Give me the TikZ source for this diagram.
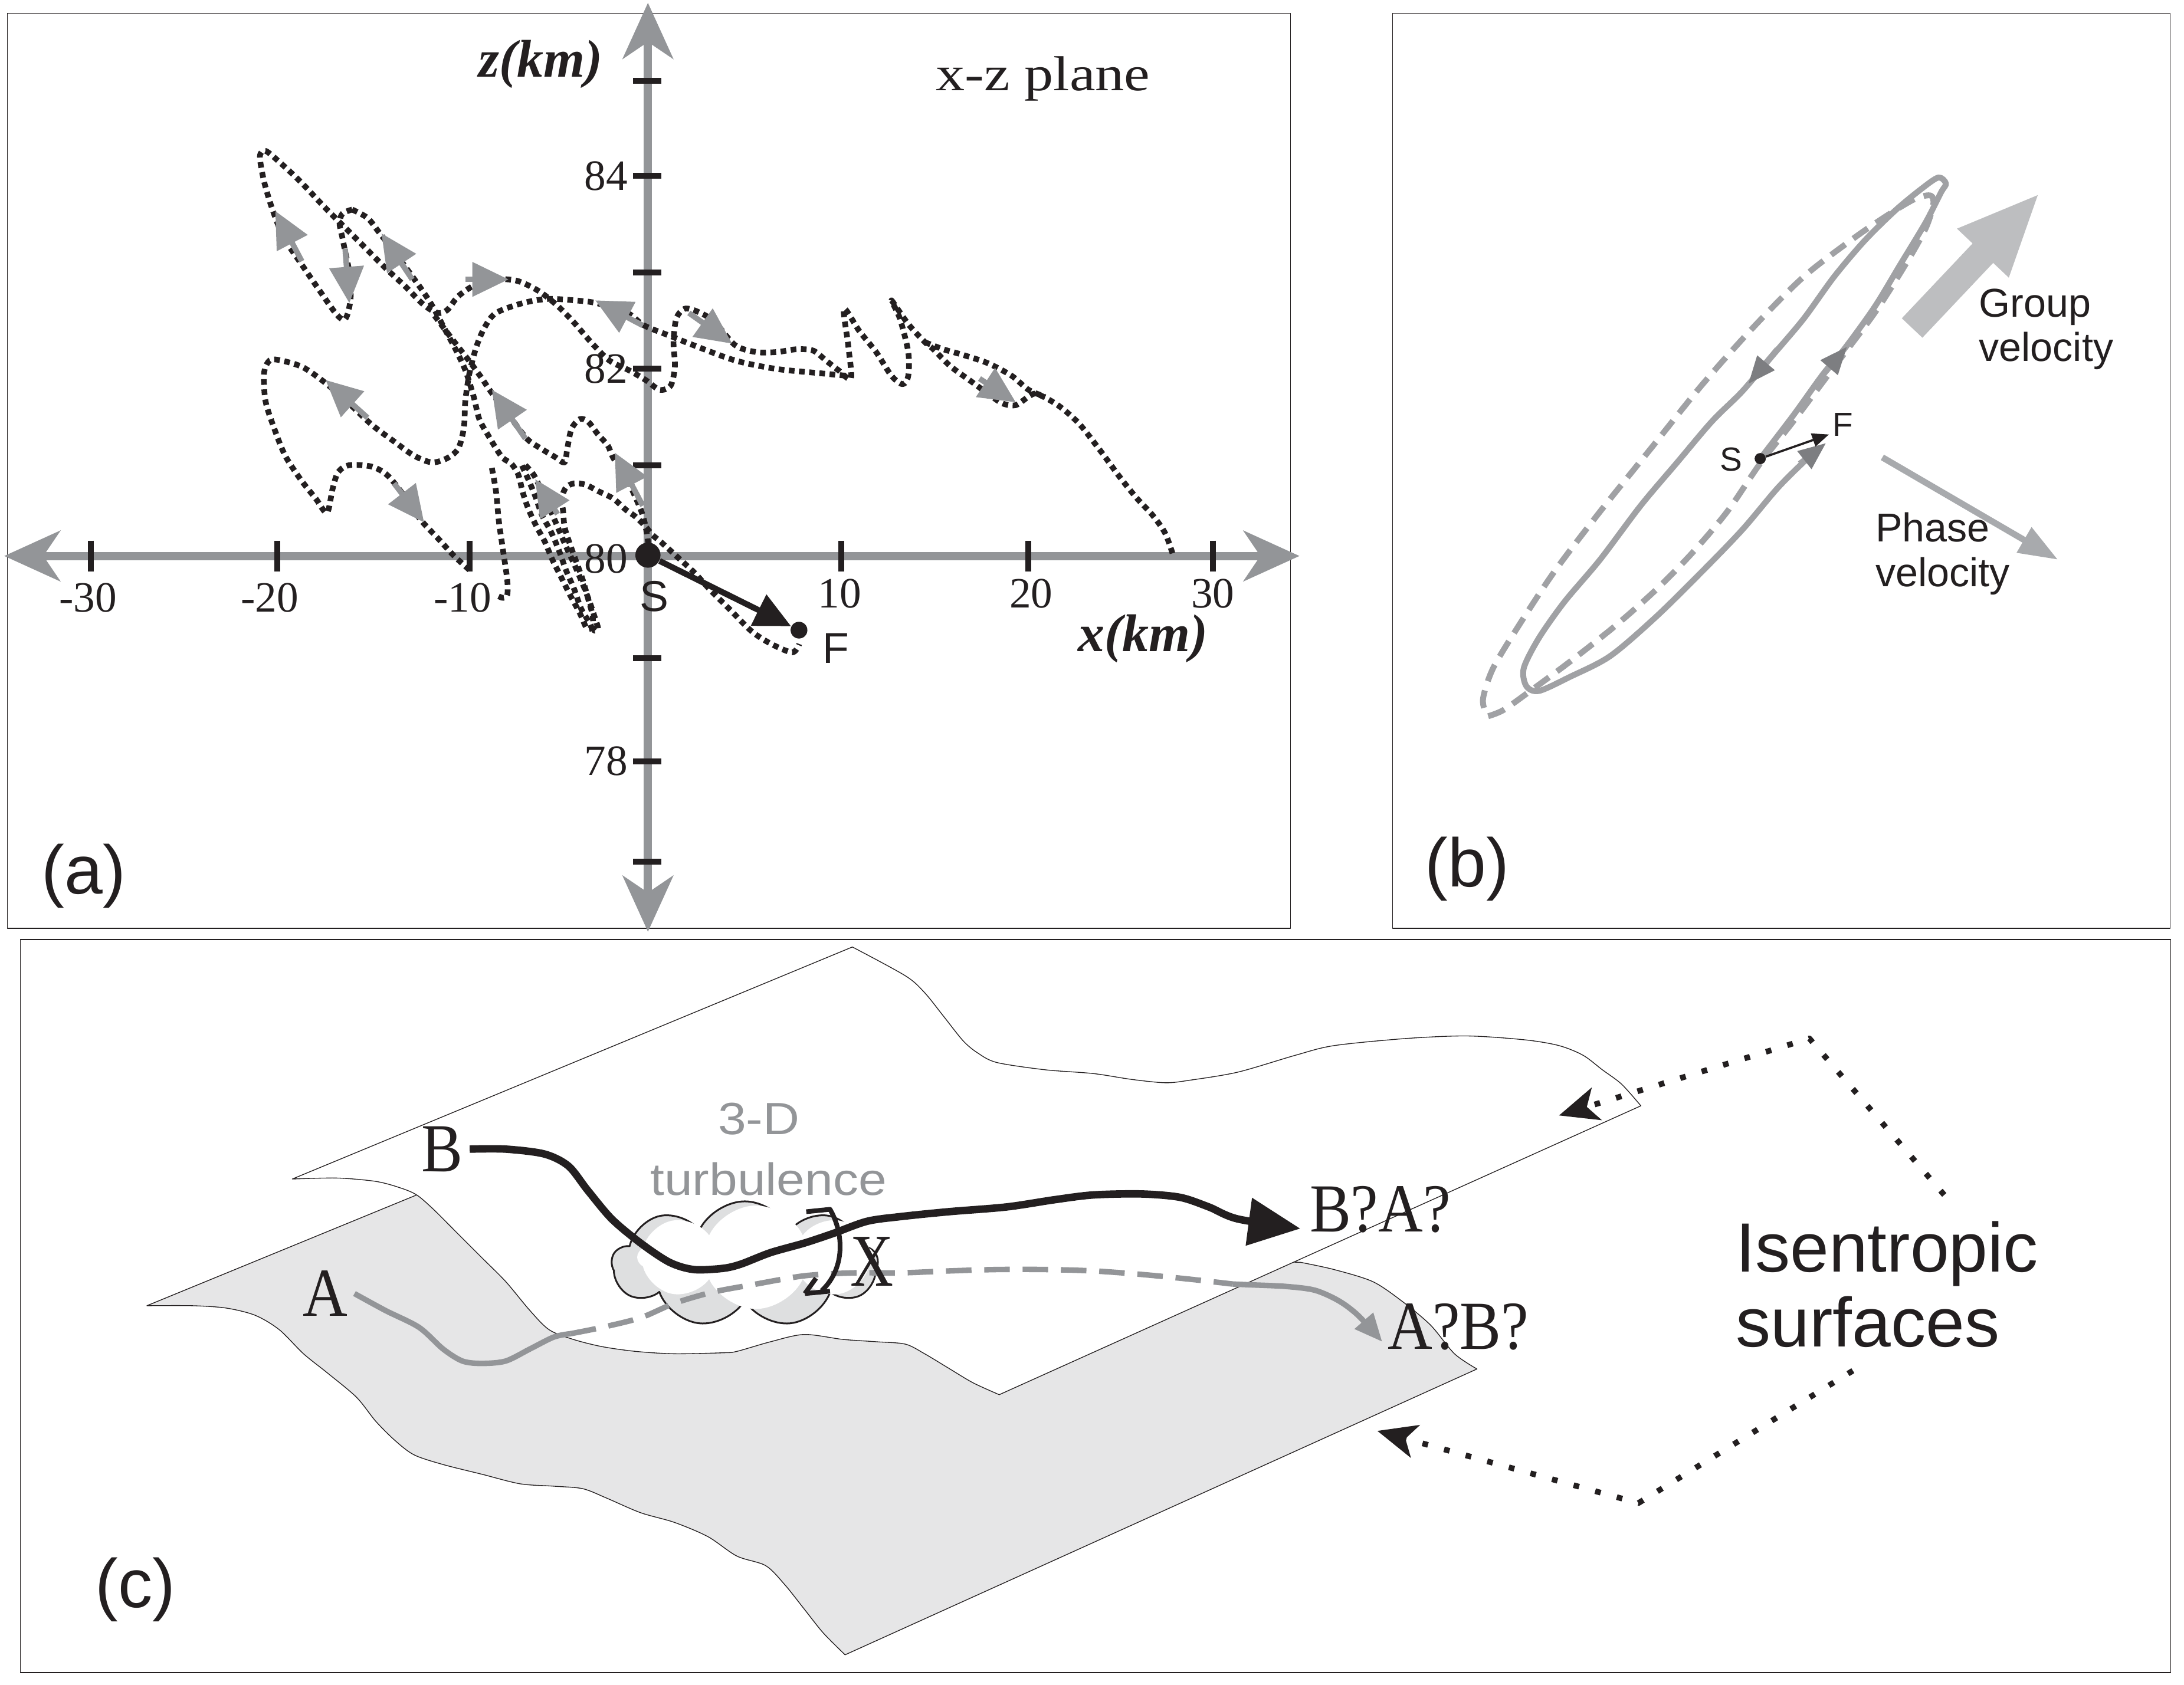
\documentclass[tikz,border=0pt]{standalone}
\usepackage{fontspec}
\setmainfont{Liberation Serif}
\setsansfont{Liberation Sans}
\usetikzlibrary{arrows.meta, shapes.symbols, positioning}

\definecolor{ink}{RGB}{35,31,32}
\definecolor{axisgray}{RGB}{147,149,152}
\definecolor{loopgray}{RGB}{160,161,164}
\definecolor{headgray}{RGB}{125,126,129}
\definecolor{groupgray}{RGB}{189,190,192}
\definecolor{phasegray}{RGB}{168,170,173}
\definecolor{surfgray}{RGB}{230,230,231}
\definecolor{puffgray}{RGB}{222,223,224}
\newcommand{\fs}[1]{\fontsize{#1}{#1}\selectfont}

\begin{document}
\begin{tikzpicture}[x=0.025cm,y=-0.025cm,line join=round,
	every node/.style={text=ink},
	frame/.style={draw=ink, line width=0.4pt},
	axis/.style={draw=axisgray, line width=4.2pt, >={Stealth[length=1cm,width=0.9cm,inset=0.3cm]}, <->},
	tick/.style={draw=ink, line width=3pt},
	traj/.style={draw=ink, line width=2.9pt, dash pattern=on 2.9pt off 2.3pt},
	dir/.style={draw=axisgray, line width=2.8pt, -{Triangle[length=0.65cm,width=0.6cm]}},
	num/.style={font=\fs{22}, inner sep=1pt},
	panel/.style={font=\sffamily\fs{35}},
	orbit/.style={draw=loopgray, line width=3pt},
	orbithead/.style={draw=loopgray, line width=3pt, -{Triangle[length=0.5cm,width=0.38cm,color=headgray]}},
	surface/.style={draw=ink, line width=0.4pt},
	isodot/.style={draw=ink, line width=2.9pt, dash pattern=on 2.9pt off 8.5pt, -{Stealth[length=0.7cm,width=0.6cm,inset=0.18cm]}}]
	\tikzset{smooth path/.style={smooth, tension=0.5}}
	\useasboundingbox (0,0) rectangle (1563,1206);

	% (a) x-z plane
	\draw[frame] (5.2,9.4) rectangle (923.5,664.5);
	\draw[axis] (3,398) -- (930,398);
	\draw[axis] (463.7,2) -- (463.7,667);
	\foreach \x in {65,198.5,335.9,602,736,868}
		\draw[tick] (\x,387) -- (\x,409);
	\foreach \y in {58,126,195,264,333,471,545,617}
		\draw[tick] (453.2,\y) -- (473.2,\y);
	\foreach \x/\t in {63/-30,193/-20,331/-10}
		\node[num] at (\x,428) {\t};
	\foreach \x/\t in {601/10,738/20,868/30}
		\node[num] at (\x,425) {\t};
	\foreach \y/\t in {126/84,264/82,400/80,545/78}
		\node[num, anchor=east] at (451,\y) {\t};

	\draw[traj] plot[smooth path] coordinates {(252,150) (245,153) (243,160) (245,170) (247,180) (250,195) (251,212) (249,224) (246,229) (240,224) (228,207) (215,188) (203,170) (195,150) (189,130) (186,112) (190,108) (200,116) (215,130) (232,148) (248,164) (262,178) (276,192) (290,205) (303,218) (313,224) (320,222) (328,212) (340,204) (355,200) (370,201) (385,208) (398,218) (410,230) (423,245) (436,258) (450,265) (462,272) (472,279) (480,276) (483,262) (482,245) (484,228) (490,221) (499,223) (511,230) (526,247) (541,252) (556,252) (570,250) (582,251) (591,258) (600,265) (609,271) (607,247) (604,221) (615,237) (627,252) (638,269) (646,275) (650,269) (650,252) (644,228) (638,215) (650,232) (662,245) (668,250) (680,262) (695,273) (710,284) (718,289) (727,290) (736,284) (742,282) (757,290) (772,303) (787,322) (801,341) (813,356) (825,369) (834,382) (840,399)};
	\draw[traj] plot[smooth path] coordinates {(311,226) (320,238) (330,251) (337,260) (345,271) (351,280) (364,297) (377,314) (387,321) (397,327) (404,331) (406,321) (409,307) (415,300) (421,302) (428,311) (435,319) (439,328) (447,339) (453,352) (459,366) (462,377) (464,390) (464,398)};
	\draw[traj] plot[smooth path] coordinates {(252,150) (263,156) (271,166) (282,180) (293,195) (303,209) (310,220) (318,235) (326,250) (333,265) (339,284) (343,300) (349,311) (355,321) (360,328) (366,332) (371,340) (374,352) (378,364) (384,377) (390,388) (395,400) (401,412) (408,426) (415,439) (420,450) (423,448) (416,436) (411,422) (405,408) (400,394) (394,380) (388,369) (383,355) (378,343) (373,332)};
	\draw[traj] plot[smooth path] coordinates {(376,333) (382,340) (387,350) (393,363) (399,377) (405,391) (411,404) (417,418) (422,431) (426,443) (428,450) (425,451) (424,440) (421,429) (417,415) (412,401) (407,387) (404,377) (403,366) (402,357) (405,349) (411,346) (419,347) (429,352) (439,357) (448,365) (455,370) (462,377) (467,383) (473,388) (484,398) (497,410) (508,422) (523,437) (538,452) (552,461) (567,467) (572,461)};
	\draw[traj] plot[smooth path] coordinates {(352,335) (355,352) (357,373) (360,394) (363,415) (363,426) (360,428) (355,426)};
	\draw[traj] plot[smooth path] coordinates {(336,408) (325,398) (314,386) (301,372) (287,352) (277,340) (266,334) (250,333) (242,338) (238,350) (234,367) (226,357) (215,343) (204,326) (196,306) (190,287) (189,267) (193,258) (201,258) (217,263) (234,275) (250,289) (266,304) (282,316) (296,326) (309,331) (320,328) (328,321) (332,306) (333,287) (336,267) (341,248) (347,234) (355,224) (374,217) (392,214) (411,215) (427,217) (449,224) (461,233) (481,241) (496,247) (526,258) (555,264) (585,267) (606,269)};
	\draw[traj] plot[smooth path] coordinates {(662,245) (675,250) (689,254) (707,260) (724,269) (736,279) (748,284)};

	% direction of travel
	\foreach \n/\a/\b in {1/216/187, 2/247/178, 3/295/200, 4/333/200, 5/460/233, 6/263/299, 7/282/346, 8/376/314, 9/399/368, 10/460/362, 11/493/224, 12/701/271}
		\coordinate (t\n) at (\a,\b);
	\draw[dir] (t1) -- (197,151);
	\draw[dir] (t2) -- (250,217);
	\draw[dir] (t3) -- (273,167);
	\draw[dir] (t4) -- (364,200);
	\draw[dir] (t5) -- (426,215);
	\draw[dir] (t6) -- (233,272);
	\draw[dir] (t7) -- (303.5,374);
	\draw[dir] (t8) -- (352,279);
	\draw[dir] (t9) -- (383,343);
	\draw[dir] (t10) -- (440,324);
	\draw[dir] (t11) -- (524,246);
	\draw[dir] (t12) -- (727,288);

	\node[circle, fill=ink, inner sep=0, minimum size=0.45cm] (Sa) at (463.7,397.4) {};
	\node[circle, fill=ink, inner sep=0, minimum size=0.3cm] (Fa) at (571.8,451.1) {};
	\draw[ink, line width=3pt, -{Triangle[length=0.65cm,width=0.6cm]}] (Sa) -- (Fa);
	\node[font=\sffamily\fs{22}] (Sal) at (468,427) {S};
	\node[font=\sffamily\fs{22}] (Fal) at (598,464) {F};
	\node[font=\bfseries\itshape\fs{27}] (zax) at (387,46) {z(km)};
	\node[font=\bfseries\itshape\fs{27}] (xax) at (818,457) {x(km)};
	\node[font=\fs{25}, anchor=base, inner sep=0] (plane) at (746.5,64.6) {\scalebox{1.18}[1]{x-z plane}};
	\node[panel] (pa) at (60,627) {(a)};

	% (b) orbit
	\draw[frame] (996.5,9.4) rectangle (1553,664.5);
	\draw[orbit, dash pattern=on 9pt off 5pt] plot[smooth path] coordinates {(1065,512.7) (1075.9,508.3) (1094.1,495.4) (1123.2,473.9) (1156,448) (1185.1,422.2) (1210.6,396.3) (1236.1,366.2) (1259.7,331.7) (1283.4,301.6) (1312.5,262.8) (1341.6,224) (1363.5,189.6) (1378,163.7) (1383.5,146.5) (1381.7,140) (1370.8,142.2) (1352.6,152.9) (1327.1,170.2) (1290.7,198.2) (1254.3,234.8) (1217.9,275.7) (1181.5,321) (1145.1,366.2) (1112.3,409.3) (1086.8,448) (1068.6,478.2) (1061.4,499.7) (1063.2,510.5) (1065,512.7)};
	\draw[orbit] plot[smooth path] coordinates {(1259.7,328.3) (1283.4,297.3) (1305.2,267.1) (1319.8,249.9) (1341.6,219.7) (1359.8,189.6) (1378,159.4) (1389,137.9) (1392.6,131.4) (1387.1,127.1) (1374.4,135.7) (1356.2,150.8) (1334.4,172.3) (1312.5,198.2) (1290.7,228.3) (1268.8,254.2) (1247,280) (1225.2,301.6) (1199.7,331.7) (1174.2,361.9) (1145.1,400.6) (1119.6,430.8) (1101.4,456.6) (1090.5,478.2) (1092.3,491.1) (1101.4,494.6) (1123.2,484.7) (1152.4,469.6) (1185.1,441.6) (1217.9,409.3) (1247,379.1) (1272.5,349) (1294.3,327.4) (1302,321)};
	\draw[orbithead] (1272,250) -- (1251,275);
	\draw[orbithead] (1304,269) -- (1322,248);
	\draw[orbithead] (1288,332) -- (1307,317);

	\node[circle, fill=ink, inner sep=0, minimum size=0.2cm] (Sb) at (1259.7,328.3) {};
	\coordinate (Fb) at (1308.9,311);
	\draw[ink, line width=1.1pt, -{Triangle[length=0.3cm,width=0.24cm]}] (Sb) -- (Fb);
	\node[font=\sffamily\fs{17}] (Sbl) at (1239,329) {S};
	\node[font=\sffamily\fs{17}] (Fbl) at (1319,304) {F};

	\coordinate (g0) at (1368.4,234.8);
	\coordinate (g1) at (1460,137.9);
	\draw[groupgray, line width=14.4pt, -{Triangle[length=1.49cm,width=1.15cm]}] (g0) -- (g1);
	\coordinate (p0) at (1347.1,327.4);
	\coordinate (p1) at (1472.7,400.6);
	\draw[phasegray, line width=3.2pt, -{Triangle[length=0.7cm,width=0.5cm]}] (p0) -- (p1);
	\node[font=\sffamily\fs{20.5}, anchor=base west, inner sep=0] (grp) at (1416,227) {Group};
	\node[font=\sffamily\fs{20.5}, anchor=base west, inner sep=0] (grpv) at (1416,258.5) {velocity};
	\node[font=\sffamily\fs{20.5}, anchor=base west, inner sep=0] (ph) at (1342,387.7) {Phase};
	\node[font=\sffamily\fs{20.5}, anchor=base west, inner sep=0] (phv) at (1342,420) {velocity};
	\node[panel] (pb) at (1050,622) {(b)};

	% (c) isentropic surfaces
	\draw[frame] (14.5,672.6) rectangle (1553.4,1197.3);
	\draw[surface, fill=surfgray] (925,903.5) -- (298.2,855.4) -- (105.1,934.7)
		-- plot[smooth path] coordinates {(105.1,934.7) (137.9,934.7) (162,936.4) (182.7,941.6) (199.9,951.9) (217.2,969.1) (234.4,982.9) (255.1,1000.2) (268.9,1017.4) (282.7,1031.2) (296.4,1041.5) (317.1,1048.4) (344.7,1055.3) (372.3,1062.2) (396.4,1063.9) (417.1,1065.7) (434.3,1072.5) (458.5,1082.9) (482.6,1089.8) (506.6,1100) (527.3,1113.9) (548,1120.8) (561.8,1134.6) (575.5,1151.8) (589.3,1169.1) (604.8,1184.6)}
		-- (1057,980)
		-- plot[smooth path] coordinates {(1057,980) (1040.9,969.1) (1023.7,948.5) (1003,931.2) (982.3,917.4) (954.7,908.8) (930.6,903.6)} -- cycle;
	\draw[surface, fill=white] (610,677.9) -- (209.2,844)
		-- plot[smooth path] coordinates {(209.2,844) (241.3,843.3) (268.9,845.7) (286.1,850.2) (298.2,855.4) (310.2,865.7) (327.5,883) (344.7,900.2) (361.9,917.4) (379.2,938.1) (393,951.9) (410.2,958.8) (430.9,964) (455,967.4) (482.6,969.1) (517.1,968.4) (527.3,967.4) (551.4,960.5) (575.5,955.3) (603.1,958.8) (627.2,960.5) (647.9,962.2) (661.7,969.1) (679,979.5) (696.2,989.8) (715.1,998.4)}
		-- (1174.3,791.6)
		-- plot[smooth path] coordinates {(1174.3,791.6) (1160.5,776.1) (1146.7,765.8) (1132.9,755.4) (1115.7,748.5) (1091.5,744.4) (1050.2,741.6) (1006.4,743.4) (954.7,748.5) (927.1,755.4) (885.8,767.5) (851.3,773.3) (834.1,775.1) (809.9,772.7) (782.4,768.5) (747.9,765.8) (713.4,760.6) (699.6,753.7) (689.3,745.1) (675.5,727.8) (661.7,710.6) (647.9,698.5) (610,677.9)} -- cycle;

	\node[cloud, cloud puffs=9, cloud puff arc=130, cloud ignores aspect, draw=ink, line width=0.9pt, fill=puffgray, minimum width=4.75cm, minimum height=2.25cm] (turb) at (533,905) {};
	\node[cloud, cloud puffs=8, cloud puff arc=130, cloud ignores aspect, fill=white, minimum width=4.25cm, minimum height=1.85cm] (turbin) at (541,900) {};

	\node[font=\fs{35}] (B) at (316.4,822.6) {\scalebox{0.9}[1]{B}};
	\node[font=\fs{35}] (A) at (232.7,926) {\scalebox{0.9}[1]{A}};
	\node[font=\fs{35}, anchor=west, inner sep=0] (BA) at (937,866) {\scalebox{0.9}[1]{B?A?}};
	\node[font=\fs{35}, anchor=west, inner sep=0] (AB) at (993,950) {\scalebox{0.9}[1]{A?B?}};
	\coordinate (Btip) at (930.6,879.5);
	\coordinate (Atip) at (989.2,960.5);
	\coordinate (Ain) at (408.5,954.7);
	\coordinate (Aout) at (882.3,919.2);

	\draw[axisgray, line width=2.8pt] plot[smooth path] coordinates {(A.east) (275.8,938.1) (299.9,950.2) (317.1,965.7) (330.9,974.3) (344.7,976) (361.9,974.3) (379.2,965.7) (396.4,957.1) (Ain)};
	\draw[axisgray, line width=2.8pt, dash pattern=on 13pt off 6.5pt] plot[smooth path] coordinates {(Ain) (430.9,950.2) (458.5,943.3) (482.6,933) (510,925) (541.1,919.2) (575.5,913.3) (610,911.2) (644.5,911.2) (679,909.8) (713.4,908.8) (747.9,908.8) (782.4,909.8) (816.8,912.3) (851.3,915.7) (Aout)};
	\draw[axisgray, line width=2.8pt, -{Triangle[length=0.5cm,width=0.42cm]}] plot[smooth path] coordinates {(Aout) (896.1,919.8) (920.2,920.9) (940.9,923.6) (958.1,931.2) (971.9,941.6) (Atip)};
	\draw[ink, line width=3.8pt, -{Triangle[length=0.93cm,width=0.83cm]}] plot[smooth path] coordinates {(B.east) (361.9,822.6) (389.6,826.1) (406.8,834.7) (420.5,852) (437.8,872.6) (458.5,889.9) (479.1,903.6) (496.4,908.8) (517,908) (530,905) (551.4,896.7) (575.5,889.9) (596.2,883) (620.4,874.3) (644.5,870.9) (679,867.4) (720.3,864) (754.8,858.8) (782.4,855.4) (816.8,854.7) (844.4,857.1) (865.1,864) (885.8,872.6) (Btip)};

	\draw[ink, line width=2.4pt] (577,867.4) -- (594,865.7) .. controls (604,883) and (605,908) .. (588,924);
	\draw[ink, line width=2.4pt] (576,926) -- (594,924.3) (576,926) -- (584,915);
	\node[font=\fs{38}] (X) at (624,903) {\scalebox{0.8}[1]{X}};

	\node[font=\sffamily\fs{23}, text=axisgray, anchor=base, inner sep=0] (td) at (543,812.3) {\scalebox{1.12}[1]{3-D}};
	\node[font=\sffamily\fs{23}, text=axisgray, anchor=base, inner sep=0] (tt) at (550,855.4) {\scalebox{1.12}[1]{turbulence}};

	\node[font=\sffamily\fs{35.5}, anchor=base west, inner sep=0] (iso) at (1242,910.5) {Isentropic};
	\node[font=\sffamily\fs{35.5}, anchor=base west, inner sep=0] (surf) at (1242,964) {surfaces};
	\coordinate (u0) at (1391.4,855.4);
	\coordinate (u1) at (1294.9,743.4);
	\coordinate (u2) at (1115.7,798.5);
	\coordinate (l0) at (1326,981.2);
	\coordinate (l1) at (1172.5,1076);
	\coordinate (l2) at (985.7,1024.3);
	\draw[isodot] (u0) -- (u1) -- (u2);
	\draw[isodot] (l0) -- (l1) -- (l2);
	\node[panel] (pc) at (97,1138) {(c)};
\end{tikzpicture}
\end{document}
